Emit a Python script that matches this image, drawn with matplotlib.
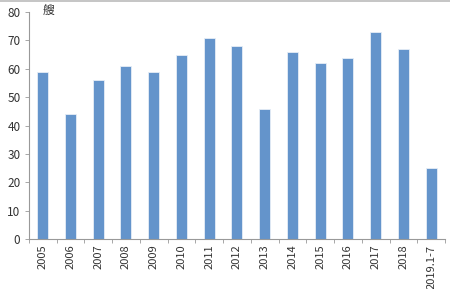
import matplotlib
matplotlib.use("Agg")
import matplotlib.pyplot as plt
from matplotlib.lines import Line2D

plt.rcParams['font.family'] = ['Noto Sans CJK SC', 'DejaVu Sans']

categories = ["2005", "2006", "2007", "2008", "2009", "2010", "2011", "2012",
              "2013", "2014", "2015", "2016", "2017", "2018", "2019.1-7"]
values = [59, 44, 56, 61, 59, 65, 71, 68, 46, 66, 62, 64, 73, 67, 25]
yticks = [0, 10, 20, 30, 40, 50, 60, 70, 80]

fig = plt.figure(figsize=(4.5, 2.89), dpi=100)
ax = fig.add_axes([0.064, 0.173, 0.925, 0.785])

x = list(range(len(categories)))
ax.bar(x, values, width=0.4, color="#6494CB", edgecolor="#E6EEF7", linewidth=0.6, zorder=2)

ax.set_xlim(-0.5, len(categories) - 0.5)
ax.set_ylim(0, 80)
ax.set_yticks(yticks)
ax.set_yticklabels([str(t) for t in yticks], fontsize=8.5, color="#333333")
ax.set_xticks(x)
ax.set_xticklabels(categories, rotation=90, fontsize=8, color="#333333")
ax.tick_params(axis='x', length=0, pad=4)
ax.set_xticks([i - 0.5 for i in range(len(categories) + 1)], minor=True)
ax.tick_params(axis='x', which='minor', length=3, color="#999999", width=0.6)
ax.tick_params(axis='y', length=3, color="#999999", width=0.6, pad=3)

for s in ["top", "right"]:
    ax.spines[s].set_visible(False)
for s in ["left", "bottom"]:
    ax.spines[s].set_color("#999999")
    ax.spines[s].set_linewidth(0.8)

fig.text(0.095, 0.985, "艘", fontsize=8.5, color="#333333", ha="left", va="top")
fig.add_artist(Line2D([0, 1], [0.998, 0.998], transform=fig.transFigure, color="#BBBBBB", linewidth=1.2))

fig.savefig("out.png", dpi=100, facecolor="white")
